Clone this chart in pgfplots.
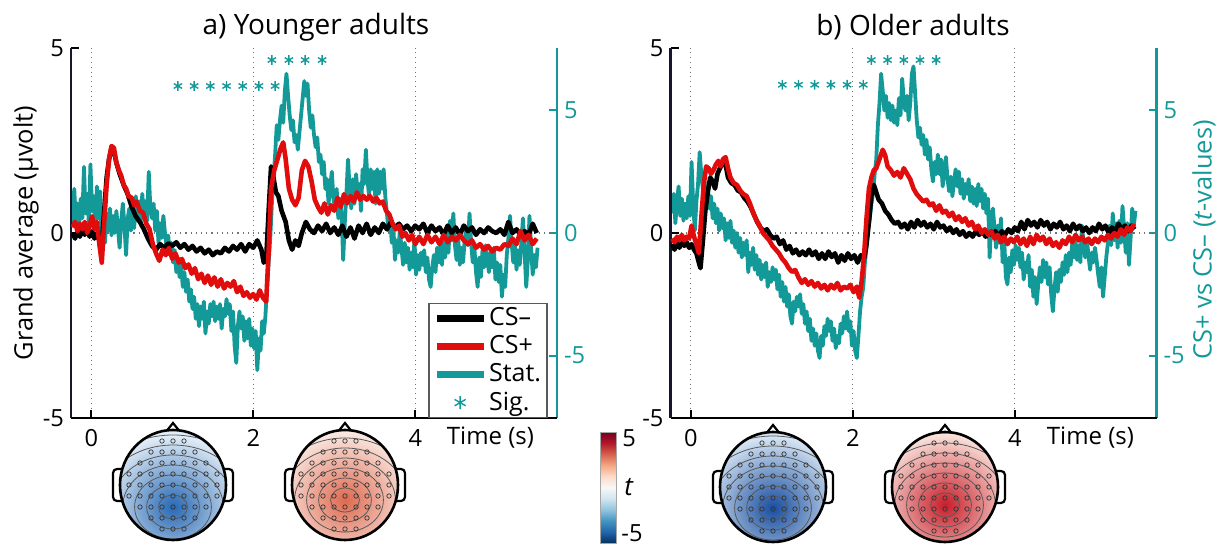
\documentclass[border=0pt]{standalone}
\usepackage{fontspec}
\setmainfont{Open Sans}
\usepackage{pgfplots}
\pgfplotsset{compat=1.18}
\definecolor{statteal}{RGB}{20,153,153}
\definecolor{csred}{RGB}{225,12,12}
\definecolor{axnavy}{RGB}{22,22,45}
\definecolor{ybin}{RGB}{40,105,180}\definecolor{ybout}{RGB}{226,237,247}
\definecolor{yrin}{RGB}{222,105,80}\definecolor{yrout}{RGB}{252,240,234}
\definecolor{obin}{RGB}{25,78,160}\definecolor{obout}{RGB}{214,229,243}
\definecolor{orin}{RGB}{200,30,42}\definecolor{orout}{RGB}{250,230,222}
\newcommand\ticksize{\fontsize{11.8}{14}\selectfont}

\pgfdeclareverticalshading{rdbu}{100bp}{%
rgb(0bp)=(0.02,0.19,0.38); rgb(25bp)=(0.02,0.19,0.38);
rgb(30bp)=(0.13,0.40,0.67); rgb(35bp)=(0.26,0.58,0.76);
rgb(40bp)=(0.57,0.77,0.87); rgb(45bp)=(0.82,0.90,0.94);
rgb(50bp)=(0.97,0.97,0.97); rgb(55bp)=(0.99,0.86,0.78);
rgb(60bp)=(0.96,0.65,0.51); rgb(65bp)=(0.84,0.38,0.30);
rgb(70bp)=(0.70,0.09,0.17); rgb(75bp)=(0.45,0.0,0.12);
rgb(100bp)=(0.45,0.0,0.12)}

% head map: centre x, centre y (pixels from top left), inner colour, outer colour, offset of the peak
\newcommand\topo[5]{%
  \draw[line width=1.1pt, fill=white] (#1-12,#2-47) -- (#1,#2-62) -- (#1+12,#2-47) -- cycle;
  \draw[line width=1.1pt, fill=white, rounded corners=2pt] (#1-60,#2-16) rectangle (#1-48,#2+16);
  \draw[line width=1.1pt, fill=white, rounded corners=2pt] (#1+48,#2-16) rectangle (#1+60,#2+16);
  \begin{scope}
    \clip (#1,#2) ellipse (26.5pt and 27.5pt);
    \fill[#4] (#1-60,#2-60) rectangle (#1+60,#2+60);
    \shade[inner color=#3, outer color=#4] (#1,#2+#5) circle (36pt);
    \foreach \r in {6,11,16,21,26,31,36}
      \draw[black!65, line width=0.4pt] (#1,#2+#5) ellipse (\r pt*1.2 and \r pt);
    \foreach \i in {-4,...,4}{\foreach \j in {-4,...,4}{%
      \pgfmathsetmacro\dd{\i*\i+\j*\j}%
      \ifdim\dd pt<17.5pt
        \draw[black!80, line width=0.35pt] (#1+\i*11,#2+\j*11) circle (1.1pt);
      \fi}}
  \end{scope}
  \draw[line width=1.3pt] (#1,#2) ellipse (26.5pt and 27.5pt);
}

\pgfplotsset{
  erp/.style={scale only axis, width=243pt, height=185pt, xmin=-0.25, xmax=5.75,
    anchor=south west, tick align=inside, major tick length=4pt,
    tick label style={font=\ticksize}, /pgf/number format/assume math mode=true},
  tstat/.style={erp, ymin=-7.55, ymax=7.55, ytick={-5,0,5},
    axis y line*=right, axis x line*=bottom,
    x axis line style={draw=none}, xtick={0,2,4}, xticklabels={}, xtick style={draw=none},
    xmajorgrids, major grid style={dotted, black!55, line width=0.6pt},
    y axis line style={statteal, line width=1.3pt}, ytick style={statteal, line width=1pt},
    yticklabel style={text=statteal}},
  volt/.style={erp, ymin=-5, ymax=5, ytick={-5,0,5}, xtick={0,2,4},
    axis y line*=left, axis x line*=bottom,
    x axis line style={black, line width=1.3pt}, y axis line style={axnavy, line width=1.3pt},
    tick style={black, line width=0.9pt}, xticklabel style={yshift=-2pt}},
  minusline/.style={black, line width=2.3pt, line join=round, forget plot},
  plusline/.style={csred, line width=2.3pt, line join=round, forget plot},
  statline/.style={statteal, line width=1.9pt, line join=round},
  sigmark/.style={only marks, mark=asterisk, mark size=2.4pt, statteal, mark options={line width=0.7pt}},
}

\begin{document}
\begin{tikzpicture}[font=\ticksize]
\path[use as bounding box] (0pt,0pt) rectangle (609.5pt,273pt);

%%%%%%%%%%%%%%%% a) younger adults
\begin{axis}[tstat, at={(35.5pt,64pt)}]
\draw[dotted, black!55, line width=0.6pt] (axis cs:-0.25,0) -- (axis cs:5.75,0);
\addplot[statline] coordinates {
(-0.23,0.3) (-0.21,1.8) (-0.19,0.5) (-0.17,1.2) (-0.15,0.2) (-0.13,1.4) (-0.11,0.6) (-0.09,2.7) (-0.07,0.8) (-0.05,1.6)
(-0.03,0.4) (-0.01,2.8) (0.01,0.9) (0.03,1.5) (0.05,0.2) (0.07,1.9) (0.09,0.6) (0.11,1.7) (0.13,-0.5) (0.15,0.3)
(0.17,-0.4) (0.19,0.8) (0.21,0.1) (0.23,1.0) (0.25,-0.1) (0.27,0.7) (0.29,0.0) (0.31,0.9) (0.33,0.2) (0.35,-0.6)
(0.37,0.5) (0.39,1.2) (0.41,0.3) (0.43,-0.9) (0.45,0.6) (0.47,1.0) (0.49,0.1) (0.51,0.8) (0.53,0.2) (0.55,1.5)
(0.57,0.5) (0.59,1.3) (0.61,0.4) (0.63,1.6) (0.65,0.7) (0.67,1.3) (0.69,0.5) (0.71,2.5) (0.73,1.0) (0.75,0.6)
(0.77,1.2) (0.79,0.1) (0.81,0.9) (0.83,-0.4) (0.85,0.4) (0.87,-0.2) (0.89,0.7) (0.91,0.0) (0.93,-0.6) (0.95,-0.1)
(0.97,-0.9) (0.99,-0.4) (1.01,-1.2) (1.03,-0.7) (1.05,-1.6) (1.07,-1.0) (1.09,-1.8) (1.11,-1.3) (1.13,-2.2) (1.15,-1.6)
(1.17,-2.4) (1.19,-1.9) (1.21,-2.8) (1.23,-2.3) (1.25,-3.1) (1.27,-2.6) (1.29,-3.5) (1.31,-2.9) (1.33,-3.8) (1.35,-3.0)
(1.37,-3.5) (1.39,-2.8) (1.41,-4.1) (1.43,-3.2) (1.45,-3.7) (1.47,-2.9) (1.49,-3.4) (1.51,-2.8) (1.53,-3.6) (1.55,-3.0)
(1.57,-3.5) (1.59,-2.9) (1.61,-3.9) (1.63,-3.1) (1.65,-3.4) (1.67,-2.7) (1.69,-3.3) (1.71,-2.9) (1.73,-4.0) (1.75,-3.2)
(1.77,-4.6) (1.79,-5.3) (1.81,-3.8) (1.83,-3.2) (1.85,-3.9) (1.87,-3.4) (1.89,-4.4) (1.91,-3.6) (1.93,-4.3) (1.95,-3.5)
(1.97,-4.6) (1.99,-3.9) (2.01,-4.7) (2.03,-4.0) (2.05,-5.6) (2.07,-4.3) (2.09,-4.8) (2.11,-3.6) (2.13,-4.1) (2.15,-3.4)
(2.17,-2.2) (2.19,-1.2) (2.21,-0.2) (2.23,1.2) (2.25,2.2) (2.27,3.2) (2.29,4.4) (2.31,3.8) (2.33,4.6) (2.35,5.2)
(2.37,4.5) (2.39,5.8) (2.41,6.5) (2.43,5.6) (2.45,4.8) (2.47,4.2) (2.49,4.6) (2.51,3.7) (2.53,4.0) (2.55,3.4)
(2.57,4.1) (2.59,4.8) (2.61,5.5) (2.63,6.2) (2.65,5.6) (2.67,6.1) (2.69,5.0) (2.71,4.3) (2.73,4.8) (2.75,4.0)
(2.77,3.5) (2.79,3.9) (2.81,2.9) (2.83,3.2) (2.85,2.4) (2.87,2.9) (2.89,1.8) (2.91,2.2) (2.93,1.2) (2.95,1.9)
(2.97,2.5) (2.99,1.4) (3.01,1.0) (3.03,1.8) (3.05,0.6) (3.07,1.4) (3.09,0.8) (3.11,-1.1) (3.13,0.4) (3.15,1.6)
(3.17,3.0) (3.19,1.8) (3.21,1.0) (3.23,2.2) (3.25,1.2) (3.27,2.4) (3.29,1.5) (3.31,2.0) (3.33,0.9) (3.35,2.6)
(3.37,2.0) (3.39,3.4) (3.41,2.2) (3.43,1.5) (3.45,2.6) (3.47,1.8) (3.49,2.5) (3.51,1.2) (3.53,2.6) (3.55,1.6)
(3.57,2.5) (3.59,1.8) (3.61,2.6) (3.63,1.5) (3.65,0.8) (3.67,0.1) (3.69,0.6) (3.71,-0.4) (3.73,0.2) (3.75,-1.1)
(3.77,-0.3) (3.79,-0.8) (3.81,0.1) (3.83,-0.6) (3.85,-1.3) (3.87,-0.4) (3.89,-1.2) (3.91,-0.6) (3.93,-1.5) (3.95,-0.8)
(3.97,-1.4) (3.99,-0.3) (4.01,-1.7) (4.03,-0.9) (4.05,-1.5) (4.07,-0.8) (4.09,-1.3) (4.11,-0.7) (4.13,-1.6) (4.15,-1.0)
(4.17,-1.9) (4.19,-2.2) (4.21,-1.4) (4.23,-0.9) (4.25,-1.6) (4.27,-0.6) (4.29,-1.2) (4.31,-0.5) (4.33,-1.3) (4.35,-0.4)
(4.37,-1.0) (4.39,0.1) (4.41,-0.8) (4.43,0.5) (4.45,-0.3) (4.47,0.8) (4.49,-0.5) (4.51,-1.1) (4.53,-0.2) (4.55,-1.3)
(4.57,-0.6) (4.59,-1.2) (4.61,-0.3) (4.63,0.2) (4.65,-0.5) (4.67,0.8) (4.69,-0.4) (4.71,-1.2) (4.73,-0.6) (4.75,-1.6)
(4.77,-2.2) (4.79,-1.0) (4.81,-1.8) (4.83,-0.7) (4.85,-1.4) (4.87,-0.5) (4.89,-1.1) (4.91,-1.6) (4.93,-0.8) (4.95,-1.4)
(4.97,-0.6) (4.99,-1.9) (5.01,-1.2) (5.03,-2.0) (5.05,-1.3) (5.07,-2.6) (5.09,-1.7) (5.11,-2.2) (5.13,-0.9) (5.15,-0.2)
(5.17,0.7) (5.19,-0.4) (5.21,-1.2) (5.23,-0.5) (5.25,-1.5) (5.27,-0.7) (5.29,-1.3) (5.31,-0.4) (5.33,0.6) (5.35,-0.8)
(5.37,-2.2) (5.39,-1.1) (5.41,0.7) (5.43,-0.6) (5.45,-1.7) (5.47,-0.9) (5.49,-1.4) (5.51,-0.6)};
\addplot[sigmark] coordinates {(1.07,6.0) (1.27,6.0) (1.47,6.0) (1.67,6.0) (1.87,6.0) (2.07,6.0) (2.27,6.0)};
\addplot[sigmark] coordinates {(2.23,7.06) (2.44,7.06) (2.64,7.06) (2.85,7.06)};
\end{axis}

\begin{axis}[volt, at={(35.5pt,64pt)},
  legend style={at={(axis description cs:0.981,0.311)}, anchor=north east,
    draw=black!65, line width=0.7pt, fill=white, inner xsep=2pt, inner ysep=1.5pt,
    row sep=2.5pt, font=\fontsize{12.5}{13}\selectfont, nodes={inner xsep=1pt, inner ysep=0.5pt}},
  legend cell align=left]
\addplot[minusline] coordinates {
(-0.23,0.0) (-0.2,-0.15) (-0.17,0.05) (-0.14,-0.1) (-0.11,0.1) (-0.08,-0.05) (-0.05,0.15) (-0.02,-0.1) (0.01,0.05) (0.04,-0.15)
(0.07,0.0) (0.10,-0.2) (0.13,-0.3) (0.16,0.6) (0.19,1.5) (0.22,2.0) (0.25,2.3) (0.28,2.2) (0.31,1.9) (0.35,1.6)
(0.40,1.3) (0.45,1.05) (0.50,0.7) (0.55,0.45) (0.60,0.3) (0.65,0.1) (0.70,-0.15) (0.75,-0.35) (0.80,-0.45) (0.85,-0.3)
(0.90,-0.4) (0.95,-0.28) (1.00,-0.35) (1.05,-0.25) (1.10,-0.4) (1.15,-0.3) (1.20,-0.45) (1.25,-0.35) (1.30,-0.5) (1.35,-0.4)
(1.40,-0.55) (1.45,-0.45) (1.50,-0.6) (1.55,-0.5) (1.60,-0.55) (1.65,-0.4) (1.70,-0.5) (1.75,-0.35) (1.80,-0.45) (1.85,-0.3)
(1.90,-0.5) (1.95,-0.3) (2.00,-0.4) (2.05,-0.2) (2.10,-0.45) (2.13,-0.8) (2.16,-0.7) (2.19,0.6) (2.22,1.8) (2.25,1.5)
(2.28,1.1) (2.31,1.0) (2.35,0.6) (2.40,0.3) (2.44,-0.2) (2.48,-0.45) (2.52,-0.2) (2.56,-0.35) (2.60,0.0) (2.65,0.3)
(2.70,0.1) (2.75,0.0) (2.80,0.2) (2.85,0.05) (2.90,0.25) (2.95,0.0) (3.00,0.15) (3.05,-0.05) (3.10,0.2) (3.15,-0.1)
(3.20,0.15) (3.25,-0.15) (3.30,0.2) (3.35,0.0) (3.40,0.25) (3.45,-0.05) (3.50,0.15) (3.55,0.0) (3.60,0.25) (3.65,0.1)
(3.70,0.3) (3.75,0.15) (3.80,0.25) (3.85,0.1) (3.90,0.2) (3.95,0.05) (4.00,0.2) (4.05,0.1) (4.10,0.25) (4.15,0.0)
(4.20,0.2) (4.25,0.05) (4.30,0.15) (4.35,-0.05) (4.40,0.2) (4.45,0.0) (4.50,0.15) (4.55,-0.05) (4.60,0.2) (4.65,0.05)
(4.70,0.15) (4.75,-0.05) (4.80,0.1) (4.85,0.0) (4.90,0.15) (4.95,0.05) (5.00,0.0) (5.05,0.1) (5.10,-0.05) (5.15,0.3)
(5.20,0.0) (5.25,0.1) (5.30,-0.05) (5.35,0.05) (5.40,-0.05) (5.45,0.25) (5.50,0.0)};
\addplot[plusline] coordinates {
(-0.23,0.15) (-0.2,0.3) (-0.17,0.05) (-0.14,0.25) (-0.11,0.1) (-0.08,0.3) (-0.05,0.0) (-0.02,0.2) (0.01,0.45) (0.04,0.1)
(0.07,0.3) (0.10,-0.3) (0.13,-0.8) (0.16,0.3) (0.19,1.3) (0.22,2.0) (0.25,2.35) (0.28,2.3) (0.31,1.9) (0.34,1.7)
(0.37,1.55) (0.40,1.3) (0.43,1.2) (0.46,1.0) (0.50,0.95) (0.53,0.75) (0.56,0.85) (0.60,0.6) (0.64,0.55) (0.68,0.25)
(0.72,0.1) (0.76,-0.3) (0.80,-0.55) (0.84,-0.75) (0.88,-0.45) (0.92,-0.6) (0.96,-0.4) (1.00,-0.7) (1.04,-0.55) (1.08,-0.8)
(1.12,-0.7) (1.16,-0.95) (1.20,-0.85) (1.24,-1.1) (1.28,-0.95) (1.32,-1.25) (1.36,-1.1) (1.40,-1.35) (1.44,-1.15) (1.48,-1.4)
(1.52,-1.2) (1.56,-1.45) (1.60,-1.25) (1.64,-1.5) (1.68,-1.35) (1.72,-1.45) (1.76,-1.3) (1.80,-1.6) (1.84,-1.45) (1.88,-1.7)
(1.92,-1.6) (1.96,-1.75) (2.00,-1.65) (2.04,-1.8) (2.08,-1.55) (2.12,-1.75) (2.16,-1.85) (2.19,-0.5) (2.22,1.2) (2.26,1.7)
(2.30,2.0) (2.34,2.3) (2.37,2.45) (2.40,2.0) (2.44,1.2) (2.48,0.9) (2.52,0.75) (2.56,0.95) (2.60,1.7) (2.64,1.95)
(2.68,1.8) (2.72,1.4) (2.76,0.9) (2.80,0.7) (2.84,0.55) (2.88,0.8) (2.92,0.5) (2.96,0.75) (3.00,0.6) (3.04,0.95)
(3.08,0.7) (3.12,1.05) (3.16,0.8) (3.20,1.0) (3.24,0.85) (3.28,1.1) (3.32,0.9) (3.36,1.0) (3.40,0.9) (3.44,1.0)
(3.48,0.85) (3.52,0.95) (3.56,0.8) (3.60,0.85) (3.64,0.6) (3.68,0.5) (3.72,0.25) (3.76,0.1) (3.80,0.2) (3.84,-0.1)
(3.88,0.0) (3.92,-0.2) (3.96,-0.05) (4.00,-0.3) (4.05,-0.1) (4.10,-0.3) (4.15,-0.05) (4.20,-0.25) (4.25,-0.1) (4.30,-0.3)
(4.35,-0.05) (4.40,-0.25) (4.45,-0.1) (4.50,-0.2) (4.55,-0.05) (4.60,-0.2) (4.65,-0.3) (4.70,-0.2) (4.75,-0.4) (4.80,-0.3)
(4.85,-0.45) (4.90,-0.35) (4.95,-0.5) (5.00,-0.4) (5.05,-0.45) (5.10,-0.3) (5.15,-0.35) (5.20,-0.15) (5.25,-0.3) (5.30,0.05)
(5.35,-0.2) (5.40,-0.05) (5.45,-0.3) (5.50,-0.15)};
\addlegendimage{legend image code/.code={\draw[black, line width=3.5pt] (0pt,0pt) -- (23.5pt,0pt);}}
\addlegendimage{legend image code/.code={\draw[csred, line width=3.5pt] (0pt,0pt) -- (23.5pt,0pt);}}
\addlegendimage{legend image code/.code={\draw[statteal, line width=3.5pt] (0pt,0pt) -- (23.5pt,0pt);}}
\addlegendimage{legend image code/.code={\draw[statteal, line width=0.7pt] plot[only marks, mark=asterisk, mark size=3.2pt] coordinates {(11.75pt,0pt)};}}
\legend{CS--, CS+, Stat., Sig.}
\end{axis}

%%%%%%%%%%%%%%%% b) older adults
\begin{axis}[tstat, at={(335.25pt,64pt)}]
\draw[dotted, black!55, line width=0.6pt] (axis cs:-0.25,0) -- (axis cs:5.75,0);
\addplot[statline] coordinates {
(-0.23,0.8) (-0.21,1.6) (-0.19,0.4) (-0.17,1.3) (-0.15,1.9) (-0.13,0.7) (-0.11,1.4) (-0.09,0.5) (-0.07,1.2) (-0.05,0.6)
(-0.03,1.5) (-0.01,0.7) (0.01,2.9) (0.03,1.2) (0.05,0.1) (0.07,1.3) (0.09,2.0) (0.11,3.3) (0.13,2.4) (0.15,1.8)
(0.17,2.1) (0.19,1.4) (0.21,1.9) (0.23,1.0) (0.25,1.5) (0.27,0.6) (0.29,1.2) (0.31,0.4) (0.33,1.0) (0.35,0.1)
(0.37,0.8) (0.39,0.2) (0.41,0.6) (0.43,-0.3) (0.45,0.4) (0.47,-0.2) (0.49,0.5) (0.51,-0.4) (0.53,0.1) (0.55,-0.6)
(0.57,0.0) (0.59,-0.8) (0.61,-0.2) (0.63,-1.0) (0.65,-0.4) (0.67,-0.9) (0.69,-0.3) (0.71,-1.6) (0.73,-0.8) (0.75,-1.3)
(0.77,-0.6) (0.79,-1.5) (0.81,-0.9) (0.83,-1.7) (0.85,-1.1) (0.87,-1.9) (0.89,-1.3) (0.91,-1.8) (0.93,-1.2) (0.95,-2.2)
(0.97,-1.6) (0.99,-2.0) (1.01,-1.4) (1.03,-1.9) (1.05,-1.5) (1.07,-2.3) (1.09,-1.7) (1.11,-2.6) (1.13,-2.0) (1.15,-2.8)
(1.17,-2.2) (1.19,-3.0) (1.21,-2.5) (1.23,-3.4) (1.25,-3.7) (1.27,-2.8) (1.29,-3.2) (1.31,-2.6) (1.33,-3.0) (1.35,-2.5)
(1.37,-3.3) (1.39,-2.9) (1.41,-3.7) (1.43,-3.2) (1.45,-4.0) (1.47,-3.5) (1.49,-4.4) (1.51,-3.9) (1.53,-4.6) (1.55,-4.1)
(1.57,-4.8) (1.59,-5.1) (1.61,-4.2) (1.63,-4.6) (1.65,-3.8) (1.67,-4.2) (1.69,-3.5) (1.71,-4.0) (1.73,-3.6) (1.75,-4.4)
(1.77,-3.9) (1.79,-4.7) (1.81,-4.2) (1.83,-4.5) (1.85,-3.7) (1.87,-4.1) (1.89,-3.4) (1.91,-3.9) (1.93,-3.2) (1.95,-4.0)
(1.97,-3.6) (1.99,-4.6) (2.01,-4.0) (2.03,-4.8) (2.05,-5.1) (2.07,-4.2) (2.09,-3.2) (2.11,-2.6) (2.13,-2.2) (2.15,-1.2)
(2.17,-0.6) (2.19,0.2) (2.21,0.6) (2.23,1.2) (2.25,1.6) (2.27,2.4) (2.29,3.0) (2.31,4.4) (2.33,5.3) (2.35,6.5)
(2.37,5.8) (2.39,5.0) (2.41,5.6) (2.43,4.7) (2.45,5.3) (2.47,4.6) (2.49,5.2) (2.51,4.5) (2.53,5.0) (2.55,4.4)
(2.57,5.5) (2.59,4.8) (2.61,6.3) (2.63,5.4) (2.65,5.0) (2.67,5.6) (2.69,4.6) (2.71,5.3) (2.73,6.5) (2.75,6.8)
(2.77,5.7) (2.79,4.6) (2.81,3.9) (2.83,4.3) (2.85,3.6) (2.87,4.0) (2.89,3.2) (2.91,3.8) (2.93,3.0) (2.95,3.5)
(2.97,2.6) (2.99,2.1) (3.01,2.9) (3.03,2.4) (3.05,3.2) (3.07,2.4) (3.09,3.0) (3.11,1.9) (3.13,2.5) (3.15,3.1)
(3.17,2.2) (3.19,1.7) (3.21,2.3) (3.23,1.5) (3.25,2.1) (3.27,2.6) (3.29,1.9) (3.31,2.5) (3.33,1.6) (3.35,2.2)
(3.37,1.4) (3.39,2.0) (3.41,1.6) (3.43,2.2) (3.45,1.3) (3.47,1.9) (3.49,1.2) (3.51,1.8) (3.53,1.1) (3.55,2.0)
(3.57,1.3) (3.59,1.8) (3.61,1.0) (3.63,1.6) (3.65,0.8) (3.67,1.4) (3.69,-1.0) (3.71,0.5) (3.73,1.0) (3.75,0.2)
(3.77,-0.6) (3.79,0.3) (3.81,-0.4) (3.83,0.6) (3.85,-1.2) (3.87,-0.3) (3.89,-1.8) (3.91,-2.1) (3.93,-1.0) (3.95,-1.6)
(3.97,-0.7) (3.99,-1.3) (4.01,-0.5) (4.03,-1.1) (4.05,-0.6) (4.07,-1.4) (4.09,-0.8) (4.11,-1.9) (4.13,-1.2) (4.15,-1.6)
(4.17,-0.9) (4.19,-2.2) (4.21,-1.5) (4.23,-2.6) (4.25,-1.8) (4.27,-2.9) (4.29,-2.1) (4.31,-1.4) (4.33,-2.0) (4.35,-1.1)
(4.37,-1.8) (4.39,-1.2) (4.41,-2.1) (4.43,-1.4) (4.45,-2.5) (4.47,-3.2) (4.49,-2.3) (4.51,-1.6) (4.53,-2.4) (4.55,-1.5)
(4.57,-2.0) (4.59,-1.2) (4.61,-1.7) (4.63,-0.9) (4.65,-1.6) (4.67,-0.8) (4.69,-1.3) (4.71,-0.4) (4.73,-1.0) (4.75,-0.3)
(4.77,-1.1) (4.79,-0.5) (4.81,-1.2) (4.83,0.3) (4.85,-0.4) (4.87,-1.0) (4.89,-0.3) (4.91,-0.9) (4.93,-1.5) (4.95,-0.8)
(4.97,-1.2) (4.99,-0.6) (5.01,-1.1) (5.03,-1.7) (5.05,-2.2) (5.07,-1.4) (5.09,-2.6) (5.11,-1.8) (5.13,-1.0) (5.15,-0.4)
(5.17,0.3) (5.19,-0.5) (5.21,0.8) (5.23,-0.3) (5.25,0.4) (5.27,-0.6) (5.29,0.5) (5.31,-0.4) (5.33,1.1) (5.35,0.2)
(5.37,-0.8) (5.39,0.4) (5.41,-1.3) (5.43,-0.2) (5.45,1.0) (5.47,0.3) (5.49,0.9)};
\addplot[sigmark] coordinates {(1.13,6.05) (1.33,6.05) (1.53,6.05) (1.73,6.05) (1.93,6.05) (2.13,6.05)};
\addplot[sigmark] coordinates {(2.23,7.06) (2.43,7.06) (2.63,7.06) (2.83,7.06) (3.03,7.06)};
\end{axis}

\begin{axis}[volt, at={(335.25pt,64pt)}]
\addplot[minusline] coordinates {
(-0.23,-0.3) (-0.2,-0.45) (-0.17,-0.25) (-0.14,-0.4) (-0.11,-0.2) (-0.08,-0.35) (-0.05,-0.25) (-0.02,-0.4) (0.01,-0.3) (0.04,-0.45)
(0.07,-0.55) (0.10,-0.8) (0.12,-0.95) (0.15,-0.2) (0.18,0.6) (0.21,1.1) (0.24,1.5) (0.27,1.4) (0.30,1.2) (0.33,1.6)
(0.36,1.75) (0.40,1.9) (0.43,1.85) (0.46,1.5) (0.50,1.35) (0.54,1.3) (0.58,1.15) (0.62,1.1) (0.66,0.95) (0.70,0.85)
(0.74,0.7) (0.78,0.5) (0.82,0.3) (0.86,0.15) (0.90,0.05) (0.94,0.1) (0.98,-0.05) (1.02,-0.15) (1.06,-0.1) (1.10,-0.3)
(1.14,-0.2) (1.18,-0.45) (1.22,-0.35) (1.26,-0.55) (1.30,-0.45) (1.34,-0.6) (1.38,-0.5) (1.42,-0.6) (1.46,-0.45) (1.50,-0.6)
(1.54,-0.5) (1.58,-0.7) (1.62,-0.55) (1.66,-0.7) (1.70,-0.5) (1.74,-0.65) (1.78,-0.55) (1.82,-0.8) (1.86,-0.6) (1.90,-0.75)
(1.94,-0.55) (1.98,-0.7) (2.02,-0.6) (2.06,-0.8) (2.10,-0.6) (2.14,-0.7) (2.17,-0.3) (2.20,0.3) (2.23,1.0) (2.26,1.3)
(2.29,1.1) (2.32,0.9) (2.36,0.8) (2.40,0.6) (2.44,0.5) (2.48,0.35) (2.52,0.25) (2.56,0.3) (2.60,0.15) (2.64,0.25)
(2.68,0.1) (2.72,0.3) (2.76,0.15) (2.80,0.35) (2.84,0.2) (2.88,0.3) (2.92,0.15) (2.96,0.25) (3.00,0.1) (3.04,0.3)
(3.08,0.15) (3.12,0.2) (3.16,0.05) (3.20,0.15) (3.24,0.0) (3.28,0.1) (3.32,-0.05) (3.36,0.05) (3.40,-0.1) (3.44,0.0)
(3.48,-0.1) (3.52,0.05) (3.56,-0.05) (3.60,0.05) (3.64,-0.1) (3.68,0.0) (3.72,-0.05) (3.76,0.05) (3.80,-0.1) (3.84,0.05)
(3.88,-0.05) (3.92,0.1) (3.96,0.0) (4.00,0.15) (4.04,0.05) (4.08,0.3) (4.12,0.1) (4.16,0.35) (4.20,0.2) (4.24,0.3)
(4.28,0.15) (4.32,0.35) (4.36,0.2) (4.40,0.3) (4.44,0.1) (4.48,0.25) (4.52,0.15) (4.56,0.3) (4.60,0.1) (4.64,0.2)
(4.68,0.05) (4.72,0.25) (4.76,0.1) (4.80,0.2) (4.84,0.05) (4.88,0.15) (4.92,0.0) (4.96,0.15) (5.00,0.05) (5.04,0.25)
(5.08,0.1) (5.12,0.2) (5.16,0.0) (5.20,0.15) (5.24,0.05) (5.28,0.25) (5.32,0.1) (5.36,0.2) (5.40,0.05) (5.44,0.2) (5.48,0.1)};
\addplot[plusline] coordinates {
(-0.23,-0.15) (-0.2,-0.25) (-0.17,-0.1) (-0.14,-0.2) (-0.11,-0.05) (-0.08,-0.2) (-0.05,-0.1) (-0.02,-0.15) (0.01,0.2) (0.04,-0.1)
(0.07,-0.3) (0.10,-0.55) (0.13,0.4) (0.16,1.3) (0.19,1.8) (0.22,1.75) (0.25,1.6) (0.28,1.7) (0.31,1.85) (0.34,1.95)
(0.37,1.8) (0.40,2.0) (0.43,2.05) (0.46,1.75) (0.49,1.5) (0.53,1.35) (0.57,1.3) (0.61,1.15) (0.65,1.05) (0.69,1.0)
(0.73,0.8) (0.77,0.55) (0.81,0.35) (0.85,0.2) (0.89,0.0) (0.93,-0.1) (0.97,-0.2) (1.01,-0.35) (1.05,-0.45) (1.09,-0.55)
(1.13,-0.7) (1.17,-0.8) (1.21,-0.95) (1.25,-1.05) (1.29,-1.0) (1.33,-1.2) (1.37,-1.35) (1.41,-1.25) (1.45,-1.4) (1.49,-1.3)
(1.53,-1.45) (1.57,-1.35) (1.61,-1.5) (1.65,-1.4) (1.69,-1.55) (1.73,-1.4) (1.77,-1.5) (1.81,-1.35) (1.85,-1.55) (1.89,-1.45)
(1.93,-1.5) (1.97,-1.4) (2.01,-1.6) (2.05,-1.45) (2.08,-1.75) (2.11,-1.3) (2.14,-0.6) (2.17,0.4) (2.20,1.2) (2.23,1.5)
(2.26,1.7) (2.29,1.75) (2.33,2.0) (2.37,2.25) (2.40,2.1) (2.43,1.8) (2.47,1.7) (2.51,1.55) (2.55,1.65) (2.59,1.5)
(2.63,1.75) (2.67,1.6) (2.71,1.45) (2.75,1.2) (2.79,1.05) (2.83,0.95) (2.87,0.85) (2.91,0.9) (2.95,0.75) (2.99,0.8)
(3.03,0.6) (3.07,0.75) (3.11,0.55) (3.15,0.6) (3.19,0.45) (3.23,0.55) (3.27,0.35) (3.31,0.45) (3.35,0.3) (3.39,0.4)
(3.43,0.2) (3.47,0.3) (3.51,0.1) (3.55,0.2) (3.59,0.0) (3.63,0.1) (3.67,-0.05) (3.71,0.05) (3.75,-0.15) (3.79,-0.05)
(3.83,-0.25) (3.87,-0.1) (3.91,-0.3) (3.95,-0.15) (3.99,-0.25) (4.03,-0.1) (4.07,-0.3) (4.11,-0.15) (4.15,-0.35) (4.19,-0.1)
(4.23,-0.3) (4.27,-0.05) (4.31,-0.2) (4.35,-0.1) (4.39,-0.3) (4.43,-0.15) (4.47,-0.35) (4.51,-0.25) (4.55,-0.4) (4.59,-0.2)
(4.63,-0.3) (4.67,-0.1) (4.71,-0.25) (4.75,-0.05) (4.79,-0.2) (4.83,-0.1) (4.87,-0.25) (4.91,-0.15) (4.95,-0.3) (4.99,-0.15)
(5.03,-0.25) (5.07,-0.1) (5.11,-0.2) (5.15,-0.05) (5.19,-0.15) (5.23,0.0) (5.27,-0.1) (5.31,0.1) (5.35,-0.05) (5.39,0.15)
(5.43,0.05) (5.47,0.25)};
\end{axis}

%%%%%%%%%%%%%%%% titles, labels, head maps, colour bar (pixel units from the top left)
\begin{scope}[shift={(0pt,273pt)}, x=0.5pt, y=-0.5pt]
\node[font=\fontsize{14}{16}\selectfont] at (316,27) {a) Younger adults};
\node[font=\fontsize{14}{16}\selectfont] at (913,27) {b) Older adults};
\node[rotate=90, font=\fontsize{12.7}{15}\selectfont] at (26,233) {Grand average (µvolt)};
\node[rotate=90, text=statteal, font=\fontsize{12.7}{15}\selectfont] at (1204,240) {CS+ vs CS-- (\textit{t}-values)};
\node[anchor=east, font=\fontsize{12}{14}\selectfont] at (541,438) {Time (s)};
\node[anchor=east, font=\fontsize{12}{14}\selectfont] at (1141,438) {Time (s)};
\topo{173}{485}{ybin}{ybout}{22}
\topo{345}{485}{yrin}{yrout}{15}
\topo{773}{487}{obin}{obout}{21}
\topo{945}{487}{orin}{orout}{18}
\shade[shading=rdbu, draw=black!35, line width=0.3pt] (600,432) rectangle (616,543);
\node[anchor=west, inner sep=1pt] at (620,438) {5};
\node[anchor=west, inner sep=1pt, font=\fontsize{13}{15}\selectfont] at (622,487) {\textit{t}};
\node[anchor=west, inner sep=1pt] at (619,533) {-5};
\end{scope}
\end{tikzpicture}
\end{document}
